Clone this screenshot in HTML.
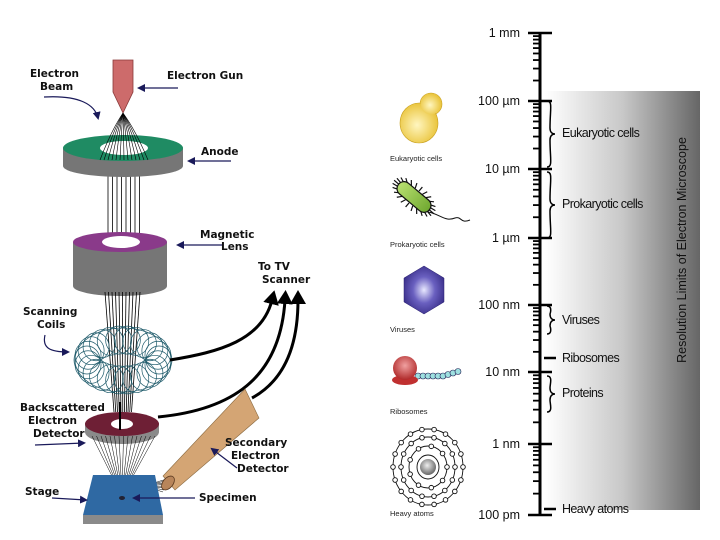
<!DOCTYPE html>
<html><head><meta charset="utf-8"><style>
html,body{margin:0;padding:0;background:#fff;width:720px;height:540px;overflow:hidden}
svg{display:block}
.lb{font-family:"DejaVu Sans","Liberation Sans",sans-serif;font-weight:bold;font-size:10.5px;fill:#111}
.sc{font-family:"Liberation Sans",sans-serif;font-size:12.5px;fill:#111}
.sm{font-family:"Liberation Sans",sans-serif;font-size:7.5px;fill:#222}
</style></head><body>
<svg id="s" width="720" height="540" viewBox="0 0 720 540" xmlns="http://www.w3.org/2000/svg">
<defs>
<linearGradient id="gr" x1="0" x2="1" y1="0" y2="0"><stop offset="0" stop-color="#fff"/><stop offset="0.5" stop-color="#c8c8c8"/><stop offset="1" stop-color="#666"/></linearGradient>
<radialGradient id="yl" cx="0.45" cy="0.55" r="0.6"><stop offset="0" stop-color="#fff6c0"/><stop offset="1" stop-color="#e8c030"/></radialGradient>
<radialGradient id="hx" cx="0.5" cy="0.5" r="0.55"><stop offset="0" stop-color="#e8e8ff"/><stop offset="0.5" stop-color="#6a60c0"/><stop offset="1" stop-color="#3a2f8a"/></radialGradient>
<radialGradient id="rb" cx="0.5" cy="0.4" r="0.6"><stop offset="0" stop-color="#f0a0a0"/><stop offset="1" stop-color="#b02a2a"/></radialGradient>
<radialGradient id="nu" cx="0.45" cy="0.4" r="0.6"><stop offset="0" stop-color="#eee"/><stop offset="1" stop-color="#666"/></radialGradient>
<linearGradient id="gb" x1="0" x2="1"><stop offset="0" stop-color="#b8e070"/><stop offset="1" stop-color="#70a830"/></linearGradient>
<marker id="ah" markerWidth="8" markerHeight="8" refX="6" refY="4" orient="auto" markerUnits="userSpaceOnUse"><path d="M0,0 L8,4 L0,8 Z" fill="#1a1a5a"/></marker>
<marker id="bh" markerWidth="14" markerHeight="16" refX="4" refY="8" orient="auto" markerUnits="userSpaceOnUse"><path d="M0,0 L14,8 L0,16 Z" fill="#000"/></marker>
</defs>

<rect x="545" y="91" width="155" height="419" fill="url(#gr)"/>
<text class="sc" transform="translate(686,250) rotate(-90)" text-anchor="middle" font-size="12.5">Resolution Limits of Electron Microscope</text>
<g id="scale"></g>

<g stroke="#000" stroke-width="0.8" id="beam"></g>

<path d="M113,60 H133 V92 L123,113 L113,92 Z" fill="#cd6b6b" stroke="#8a3a3a" stroke-width="0.8"/>
<path d="M63,148 V166 A60,11 0 0 0 183,166 V148 Z" fill="#767676"/>
<ellipse cx="123" cy="148" rx="60" ry="13" fill="#1f8b63"/>
<ellipse cx="124" cy="148" rx="24" ry="7" fill="#fff"/>
<g id="fan" stroke="#000" stroke-width="0.6" fill="none"></g>

<path d="M73,242 V286 A47,10 0 0 0 167,286 V242 Z" fill="#767676"/>
<ellipse cx="120" cy="242" rx="47" ry="10" fill="#8a3a8a"/>
<ellipse cx="121" cy="242" rx="19" ry="6" fill="#fff"/>

<g stroke="#000" stroke-width="0.8" id="beam2"></g>
<g id="coil" fill="none" stroke="#1e5a6a" stroke-width="0.7"></g>

<g fill="none" stroke="#000" stroke-width="3">
<path d="M170,360 C220,352 262,340 272,300" marker-end="url(#bh)"/>
<path d="M158,417 C230,410 280,380 285,300" marker-end="url(#bh)"/>
<path d="M252,398 C285,380 298,345 298,300" marker-end="url(#bh)"/>
</g>

<path d="M85,424 V432 A37,12 0 0 0 159,432 V424 Z" fill="#8a8a8a"/>
<ellipse cx="122" cy="424" rx="37" ry="12" fill="#6e1f35"/>
<ellipse cx="122" cy="424" rx="11" ry="5" fill="#fff"/>
<line x1="120" y1="402" x2="120" y2="430" stroke="#000" stroke-width="2"/>

<g id="fan2" stroke="#000" stroke-width="0.5" fill="none"></g>

<path d="M245,389 L259,418 L175,490 L163,476 Z" fill="#d4a574" stroke="#8a6a40" stroke-width="0.6"/>
<ellipse cx="168" cy="483" rx="5" ry="8" transform="rotate(40 168 483)" fill="#b8855a" stroke="#5a3a20" stroke-width="0.8"/>

<path d="M93,475 H155 L163,515 H83 Z" fill="#2f69a3"/>
<rect x="83" y="515" width="80" height="9" fill="#8a8a8a"/>
<ellipse cx="122" cy="498" rx="3" ry="2" fill="#223"/>

<text class="lb" x="30" y="77">Electron</text>
<text class="lb" x="40" y="90">Beam</text>
<path d="M44,97 C80,95 95,105 98,118" fill="none" stroke="#1a1a5a" stroke-width="1.2" marker-end="url(#ah)"/>
<text class="lb" x="167" y="79">Electron Gun</text>
<line x1="178" y1="88" x2="139" y2="88" stroke="#1a1a5a" stroke-width="1.2" marker-end="url(#ah)"/>
<text class="lb" x="201" y="155">Anode</text>
<line x1="231" y1="161" x2="189" y2="161" stroke="#1a1a5a" stroke-width="1.2" marker-end="url(#ah)"/>
<text class="lb" x="200" y="238">Magnetic</text>
<text class="lb" x="221" y="250">Lens</text>
<line x1="222" y1="245" x2="178" y2="245" stroke="#1a1a5a" stroke-width="1.2" marker-end="url(#ah)"/>
<text class="lb" x="258" y="270">To TV</text>
<text class="lb" x="262" y="283">Scanner</text>
<text class="lb" x="23" y="315">Scanning</text>
<text class="lb" x="37" y="328">Coils</text>
<path d="M45,335 C42,348 50,352 68,352" fill="none" stroke="#1a1a5a" stroke-width="1.2" marker-end="url(#ah)"/>
<text class="lb" x="20" y="411">Backscattered</text>
<text class="lb" x="28" y="424">Electron</text>
<text class="lb" x="33" y="437">Detector</text>
<line x1="35" y1="445" x2="84" y2="443" stroke="#1a1a5a" stroke-width="1.2" marker-end="url(#ah)"/>
<text class="lb" x="225" y="446">Secondary</text>
<text class="lb" x="231" y="459">Electron</text>
<text class="lb" x="237" y="472">Detector</text>
<line x1="237" y1="468" x2="212" y2="449" stroke="#1a1a5a" stroke-width="1.2" marker-end="url(#ah)"/>
<text class="lb" x="25" y="495">Stage</text>
<line x1="52" y1="498" x2="86" y2="500" stroke="#1a1a5a" stroke-width="1.2" marker-end="url(#ah)"/>
<text class="lb" x="199" y="501">Specimen</text>
<line x1="195" y1="498" x2="134" y2="498" stroke="#1a1a5a" stroke-width="1.2" marker-end="url(#ah)"/>

<!-- eukaryote -->
<g fill="url(#yl)" stroke="#c8a020" stroke-width="0.6">
<circle cx="431" cy="104" r="11"/>
<ellipse cx="419" cy="123" rx="19" ry="20"/>
</g>
<circle cx="431" cy="104" r="10.4" fill="url(#yl)"/>
<text class="sm" x="390" y="161">Eukaryotic cells</text>
<g id="bact"></g>
<rect x="394" y="190" width="40" height="14" rx="7" transform="rotate(40 414 197)" fill="url(#gb)" stroke="#111" stroke-width="1.2"/>
<path d="M428,212 C440,214 445,222 455,218 C462,216 460,224 470,220" fill="none" stroke="#111" stroke-width="1"/>
<text class="sm" x="390" y="247">Prokaryotic cells</text>
<polygon points="424,266 444,278 444,302 424,314 404,302 404,278" fill="url(#hx)" stroke="#2a2070" stroke-width="0.5"/>
<text class="sm" x="390" y="332">Viruses</text>
<g id="rib"></g>
<text class="sm" x="390" y="414">Ribosomes</text>
<g id="atom" fill="none" stroke="#111" stroke-width="0.9"></g>
<text class="sm" x="390" y="516">Heavy atoms</text>
</svg>
<script>
const NS="http://www.w3.org/2000/svg";
function el(p,t,a){const e=document.createElementNS(NS,t);for(const k in a)e.setAttribute(k,a[k]);p.appendChild(e);return e;}
const S=document.getElementById('scale');
const dec=[33,101,169,238,305,372,444,515];
const labs=["1 mm","100 \u00b5m","10 \u00b5m","1 \u00b5m","100 nm","10 nm","1 nm","100 pm"];
el(S,'line',{x1:540,y1:33,x2:540,y2:516,stroke:'#000','stroke-width':3});
for(let i=0;i<8;i++){
 el(S,'line',{x1:528,y1:dec[i],x2:552,y2:dec[i],stroke:'#000','stroke-width':2.5});
 const t=el(S,'text',{x:520,y:dec[i]+4,'text-anchor':'end',class:'sc'});t.textContent=labs[i];
 if(i<7){for(let k=2;k<10;k++){const y=dec[i+1]-(dec[i+1]-dec[i])*Math.log10(k);
  el(S,'line',{x1:533,y1:y,x2:541,y2:y,stroke:'#000','stroke-width':1.8});}}
}
function brace(y1,y2){const m=(y1+y2)/2,x=550;
 el(S,'path',{d:`M${x-3},${y1} C${x+3},${y1} ${x},${y1+8} ${x},${m-6} C${x},${m-2} ${x+2},${m} ${x+5},${m} C${x+2},${m} ${x},${m+2} ${x},${m+6} C${x},${y2-8} ${x+3},${y2} ${x-3},${y2}`,fill:'none',stroke:'#000','stroke-width':1.5});}
brace(101,167);brace(172,238);brace(306,334);brace(376,412);
el(S,'line',{x1:544,y1:358,x2:556,y2:358,stroke:'#000','stroke-width':2.5});
el(S,'line',{x1:544,y1:509,x2:556,y2:509,stroke:'#000','stroke-width':2.5});
[["Eukaryotic cells",137],["Prokaryotic cells",208],["Viruses",324],["Ribosomes",362],["Proteins",397],["Heavy atoms",513]].forEach(a=>{const t=el(S,'text',{x:562,y:a[1],class:'sc',style:'letter-spacing:-0.6px'});t.textContent=a[0];});
const B=document.getElementById('beam');
for(let x=108;x<=142;x+=4.5)el(B,'line',{x1:x,y1:170,x2:x,y2:240});
const F=document.getElementById('fan');
for(let x=100;x<=148;x+=4)el(F,'path',{d:`M123,113 Q${(x+123)/2},130 ${x},160`});
const B2=document.getElementById('beam2');
for(let x=105;x<=140;x+=3.5)el(B2,'line',{x1:x,y1:292,x2:x+(123-x)*0.5,y2:412});
const F2=document.getElementById('fan2');
for(let x=92;x<=155;x+=4.5)el(F2,'line',{x1:x,y1:436,x2:122,y2:496});
for(let i=0;i<8;i++)el(F2,'path',{d:`M${170-i},${478+i*2} Q145,${485} 124,496`});
const C=document.getElementById('coil');
el(C,'ellipse',{cx:123,cy:360,rx:48,ry:32});
for(let i=0;i<26;i++){const a=i/26*2*Math.PI;const cx=123+36*Math.cos(a),cy=360+20*Math.sin(a);
 el(C,'ellipse',{cx:cx,cy:cy,rx:13,ry:14});}
const BA=document.getElementById('bact');
for(let i=0;i<24;i++){const a=i/24*2*Math.PI;const x=414+26*Math.cos(a),y=197+13*Math.sin(a);
 const c=Math.cos(0.7),s=Math.sin(0.7);const dx=x-414,dy=y-197;const X=414+dx*c-dy*s,Y=197+dx*s+dy*c;
 const X0=414+(dx*0.7)*c-(dy*0.6)*s,Y0=197+(dx*0.7)*s+(dy*0.6)*c;
 el(BA,'line',{x1:X0,y1:Y0,x2:X,y2:Y,stroke:'#111','stroke-width':1.2});}
const R=document.getElementById('rib');
for(let i=0;i<9;i++)el(R,'circle',{cx:418+i*5,cy:376-(i>5?(i-5)*1.5:0),r:3,fill:'#9ee0e0',stroke:'#225','stroke-width':0.6});
el(R,'ellipse',{cx:405,cy:380,rx:13,ry:5,fill:'#c03030'});
el(R,'circle',{cx:405,cy:368,r:12,fill:'url(#rb)'});
const A=document.getElementById('atom');
[[35,38],[27,30],[19,21],[11,12]].forEach(r=>el(A,'ellipse',{cx:428,cy:467,rx:r[0],ry:r[1]}));
el(A,'circle',{cx:428,cy:467,r:8,fill:'url(#nu)',stroke:'none'});
[[35,38,18],[27,30,14],[19,21,9]].forEach(r=>{for(let i=0;i<r[2];i++){const a=i/r[2]*2*Math.PI;
 el(A,'circle',{cx:428+r[0]*Math.cos(a),cy:467+r[1]*Math.sin(a),r:2.3,fill:'#fff'});}});
</script>
</body></html>
